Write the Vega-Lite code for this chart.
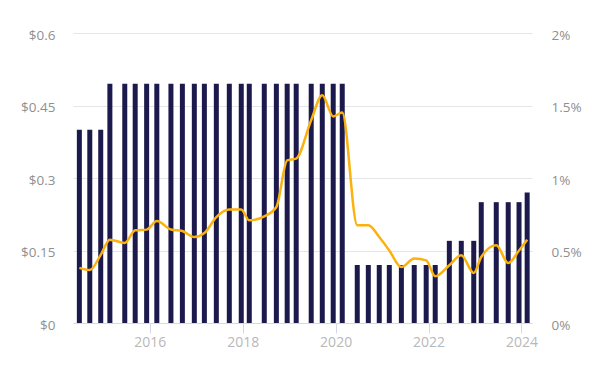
{
  "$schema": "https://vega.github.io/schema/vega-lite/v6.json",
  "width": 459,
  "height": 290,
  "autosize": "none",
  "padding": {"left": 73, "top": 33, "right": 70, "bottom": 42},
  "background": "white",
  "config": {
    "view": {"stroke": null},
    "font": "Open Sans"
  },
  "data": {
    "values": [
      {"date": "2014-06-26", "div": 0.4, "yield": 0.38},
      {"date": "2014-09-16", "div": 0.4, "yield": 0.365},
      {"date": "2014-12-11", "div": 0.4, "yield": 0.47},
      {"date": "2015-02-21", "div": 0.495, "yield": 0.575},
      {"date": "2015-06-18", "div": 0.495, "yield": 0.552},
      {"date": "2015-09-08", "div": 0.495, "yield": 0.639},
      {"date": "2015-12-07", "div": 0.495, "yield": 0.644},
      {"date": "2016-02-25", "div": 0.495, "yield": 0.703},
      {"date": "2016-06-15", "div": 0.495, "yield": 0.645},
      {"date": "2016-09-13", "div": 0.495, "yield": 0.634},
      {"date": "2016-12-16", "div": 0.495, "yield": 0.593},
      {"date": "2017-03-05", "div": 0.495, "yield": 0.62},
      {"date": "2017-06-07", "div": 0.495, "yield": 0.73},
      {"date": "2017-09-17", "div": 0.495, "yield": 0.782},
      {"date": "2017-12-20", "div": 0.495, "yield": 0.782},
      {"date": "2018-02-21", "div": 0.495, "yield": 0.708},
      {"date": "2018-06-19", "div": 0.495, "yield": 0.736},
      {"date": "2018-09-22", "div": 0.495, "yield": 0.8},
      {"date": "2018-12-16", "div": 0.495, "yield": 1.122},
      {"date": "2019-02-25", "div": 0.495, "yield": 1.134},
      {"date": "2019-06-23", "div": 0.495, "yield": 1.4},
      {"date": "2019-09-18", "div": 0.495, "yield": 1.57},
      {"date": "2019-12-13", "div": 0.495, "yield": 1.425},
      {"date": "2020-02-22", "div": 0.495, "yield": 1.451},
      {"date": "2020-06-19", "div": 0.12, "yield": 0.674},
      {"date": "2020-09-14", "div": 0.12, "yield": 0.674},
      {"date": "2020-12-09", "div": 0.12, "yield": 0.593},
      {"date": "2021-02-26", "div": 0.12, "yield": 0.5},
      {"date": "2021-06-01", "div": 0.12, "yield": 0.386},
      {"date": "2021-09-10", "div": 0.12, "yield": 0.444},
      {"date": "2021-12-13", "div": 0.12, "yield": 0.432},
      {"date": "2022-02-22", "div": 0.12, "yield": 0.322},
      {"date": "2022-06-13", "div": 0.17, "yield": 0.398},
      {"date": "2022-09-15", "div": 0.17, "yield": 0.467},
      {"date": "2022-12-22", "div": 0.17, "yield": 0.345},
      {"date": "2023-02-19", "div": 0.25, "yield": 0.455},
      {"date": "2023-06-17", "div": 0.25, "yield": 0.536},
      {"date": "2023-09-19", "div": 0.25, "yield": 0.414},
      {"date": "2023-12-13", "div": 0.25, "yield": 0.5},
      {"date": "2024-02-15", "div": 0.27, "yield": 0.575}
    ]
  },
  "encoding": {
    "x": {
      "field": "date",
      "type": "temporal",
      "scale": {"domain": [{"year": 2014, "month": 5, "date": 7}, {"year": 2024, "month": 3, "date": 24}], "padding": 0},
      "axis": {
        "title": null,
        "format": "%Y",
        "values": [{"year": 2016}, {"year": 2018}, {"year": 2020}, {"year": 2022}, {"year": 2024}],
        "grid": false,
        "labelFlush": false,
        "domainColor": "#d3d8ea",
        "domainWidth": 1,
        "tickColor": "#d3d8ea",
        "tickSize": 10,
        "labelPadding": 2,
        "labelColor": "#b8b8b8",
        "labelFontSize": 14,
        "labelFont": "Open Sans"
      }
    }
  },
  "layer": [
    {
      "mark": {"type": "bar", "color": "#1c1a4d", "size": 5},
      "encoding": {
        "y": {
          "field": "div",
          "type": "quantitative",
          "scale": {"domain": [0, 0.6], "nice": false},
          "axis": {
            "title": null,
            "orient": "left",
            "values": [0, 0.15, 0.3, 0.45, 0.6],
            "labelExpr": "'$' + datum.value",
            "domain": false,
            "ticks": false,
            "grid": true,
            "gridColor": "#e6e6e6",
            "gridWidth": 1,
            "labelPadding": 18,
            "labelOffset": 2,
            "labelColor": "#8f8f8f",
            "labelFontSize": 13.5,
            "labelFont": "Open Sans"
          }
        }
      }
    },
    {
      "mark": {"type": "line", "color": "#fbb10e", "strokeWidth": 2.5, "interpolate": "monotone"},
      "encoding": {
        "y": {
          "field": "yield",
          "type": "quantitative",
          "scale": {"domain": [0, 2], "nice": false},
          "axis": {
            "title": null,
            "orient": "right",
            "values": [0, 0.5, 1, 1.5, 2],
            "labelExpr": "datum.value + '%'",
            "domain": false,
            "ticks": false,
            "grid": false,
            "labelPadding": 19,
            "labelOffset": 2,
            "labelColor": "#8f8f8f",
            "labelFontSize": 13.5,
            "labelFont": "Open Sans"
          }
        }
      }
    }
  ],
  "resolve": {"scale": {"y": "independent"}}
}
